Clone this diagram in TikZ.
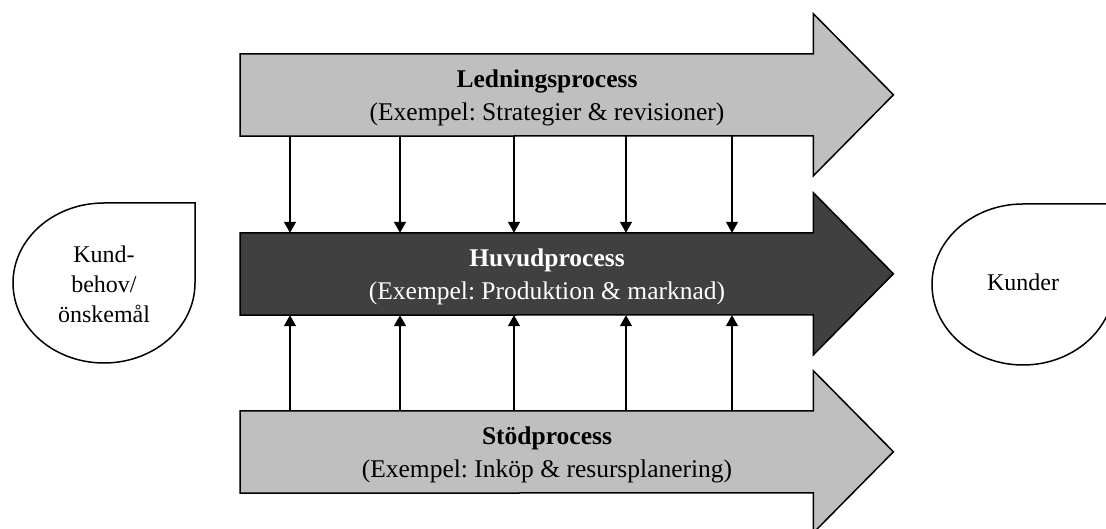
\documentclass[tikz,border=0pt]{standalone}
\usepackage{fontspec}
\setmainfont{Liberation Serif}
\frenchspacing
\usetikzlibrary{arrows.meta}
\definecolor{procgray}{HTML}{BFBFBF}
\definecolor{procdark}{HTML}{404040}
\begin{document}
\begin{tikzpicture}[x=1pt,y=1pt,
  procbody/.style={minimum width=573pt, minimum height=82pt, inner sep=0pt, anchor=west},
  proclabel/.style={align=center, font=\fontsize{25.5}{32.5}\selectfont},
  sidelabel/.style={align=center, font=\fontsize{24}{30}\selectfont},
  flowline/.style={line width=1.5pt, -{Triangle[width=12pt,length=11pt]}},
  outline/.style={draw=black, line width=1.5pt, line join=miter},
  drop/.style={draw=black, line width=1.5pt, fill=white}
]
\useasboundingbox (0,0) rectangle (1106,529);

% bodies of the three process arrows
\node[procbody] (lead) at (240,434) {};
\node[procbody] (main) at (240,255) {};
\node[procbody] (supp) at (240,77) {};

% block arrows built on the bodies
\foreach \n/\c in {lead/procgray, main/procdark, supp/procgray}
  \draw[outline, fill=\c] (\n.north west) -- (\n.north east) -- ++(0,40)
    -- ++(80,-81) -- ++(-80,-81) -- ++(0,40) -- (\n.south west) -- cycle;

\node[proclabel] (leadtxt) at (547,431)
  {\textbf{Ledningsprocess}\\(Exempel: Strategier \& revisioner)};
\node[proclabel, text=white] (maintxt) at (547,252)
  {\textbf{Huvudprocess}\\(Exempel: Produktion \& marknad)};
\node[proclabel] (supptxt) at (547,74)
  {\textbf{Stödprocess}\\(Exempel: Inköp \& resursplanering)};

% vertical links into the main process
\foreach \x [count=\i] in {290,400,514,626,732} {
  \coordinate (c\i) at (\x,0);
  \draw[flowline] (c\i |- lead.south) -- (c\i |- main.north);
  \draw[flowline] (c\i |- supp.north) -- (c\i |- main.south);
}

% teardrop shapes at both ends
\draw[drop] (195,326) -- (195,246)
  arc[start angle=0, end angle=-270, x radius=91pt, y radius=80pt] -- cycle;
\node[sidelabel] (need) at (104,245) {Kund-\\behov/\\önskemål};

\draw[drop] (1114,325) -- (1114,244.5)
  arc[start angle=0, end angle=-270, x radius=91pt, y radius=80.5pt] -- cycle;
\node[sidelabel] (cust) at (1023,247) {Kunder};
\end{tikzpicture}
\end{document}
